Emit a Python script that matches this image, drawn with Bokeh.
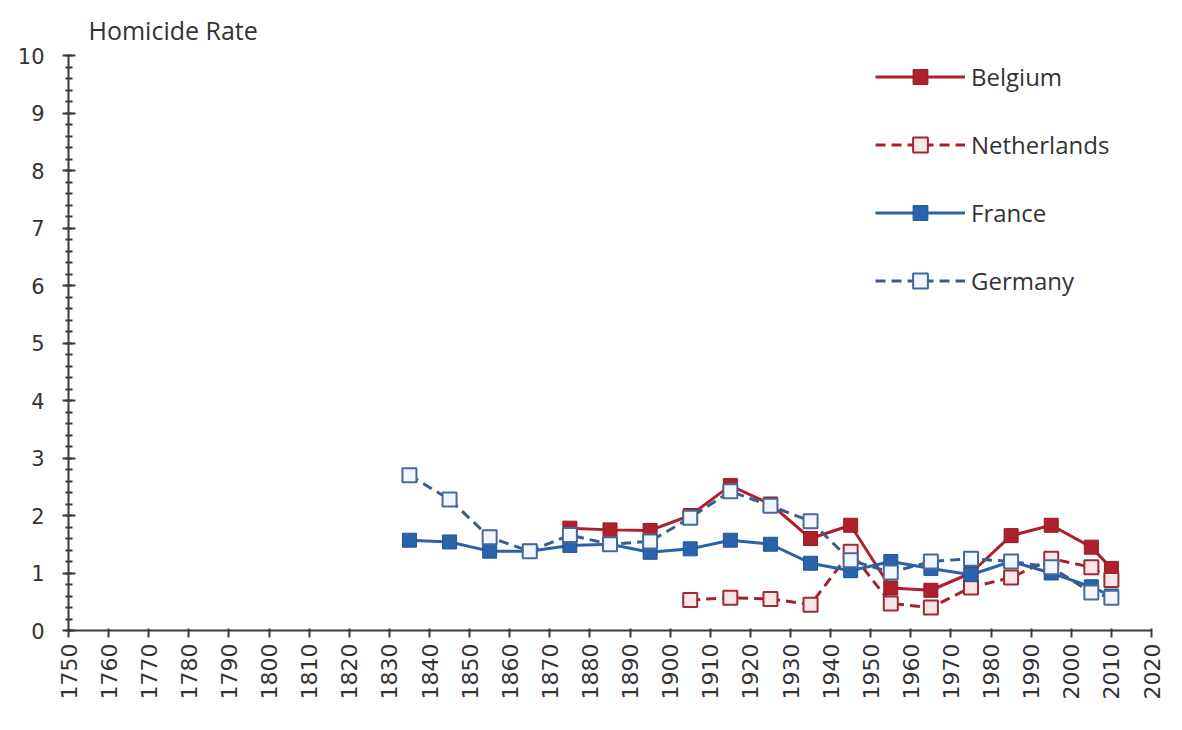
import math
from bokeh.plotting import figure
from bokeh.models import (ColumnDataSource, Range1d, SingleIntervalTicker, Legend, LegendItem, Title)
from bokeh.embed import file_html
from bokeh.resources import INLINE

# ---- data ----
years_all = [1835, 1845, 1855, 1865, 1875, 1885, 1895, 1905, 1915, 1925,
             1935, 1945, 1955, 1965, 1975, 1985, 1995, 2005, 2010]
germany = [2.70, 2.28, 1.62, 1.38, 1.66, 1.50, 1.55, 1.96, 2.42, 2.17,
           1.90, 1.22, 1.01, 1.20, 1.25, 1.20, 1.10, 0.66, 0.57]
france = [1.57, 1.54, 1.38, 1.38, 1.48, 1.50, 1.36, 1.42, 1.57, 1.50,
          1.17, 1.04, 1.20, 1.08, 0.97, 1.20, 1.00, 0.76, 0.60]
years_belgium = [1875, 1885, 1895, 1905, 1915, 1925, 1935, 1945, 1955,
                 1965, 1975, 1985, 1995, 2005, 2010]
belgium = [1.78, 1.75, 1.74, 2.00, 2.52, 2.20, 1.60, 1.83, 0.74,
           0.70, 1.00, 1.65, 1.83, 1.45, 1.08]
years_netherlands = [1905, 1915, 1925, 1935, 1945, 1955, 1965, 1975,
                     1985, 1995, 2005, 2010]
netherlands = [0.53, 0.57, 0.55, 0.45, 1.37, 0.47, 0.40, 0.75,
               0.92, 1.25, 1.10, 0.88]

x_start, x_end = 1750, 2020
y_start, y_end = 0, 10

# ---- figure ----
p = figure(width=1166, height=714, output_backend="svg", toolbar_location=None,
           x_range=Range1d(x_start, x_end), y_range=Range1d(y_start, y_end),
           min_border_left=68, min_border_right=15, min_border_top=55,
           min_border_bottom=84)
p.outline_line_color = None
p.xgrid.visible = False
p.ygrid.visible = False
p.background_fill_color = "white"
p.border_fill_color = "white"

p.add_layout(Title(text="Homicide Rate", align="left", offset=20,
                   text_font="Open Sans", text_font_size="25px",
                   text_font_style="normal", text_color="#333333",
                   standoff=18), "above")

axis_color = "#3a3a3a"
# x axis
p.xaxis.ticker = SingleIntervalTicker(interval=10, num_minor_ticks=0)
p.xaxis.major_label_orientation = math.pi / 2
p.xaxis.axis_line_color = axis_color
p.xaxis.axis_line_width = 2
p.xaxis.major_tick_line_color = axis_color
p.xaxis.major_tick_line_width = 2
p.xaxis.major_tick_out = 7
p.xaxis.major_tick_in = 2
p.xaxis.minor_tick_line_color = None
p.xaxis.major_label_text_font = "DejaVu Sans"
p.xaxis.major_label_text_font_size = "22px"
p.xaxis.major_label_text_color = "#333333"
p.xaxis.major_label_standoff = 6

# y axis
p.yaxis.ticker = SingleIntervalTicker(interval=1, num_minor_ticks=5)
p.yaxis.axis_line_color = axis_color
p.yaxis.axis_line_width = 2
p.yaxis.major_tick_line_color = axis_color
p.yaxis.major_tick_line_width = 2
p.yaxis.major_tick_out = 6
p.yaxis.major_tick_in = 7
p.yaxis.minor_tick_line_color = axis_color
p.yaxis.minor_tick_line_width = 2
p.yaxis.minor_tick_out = 3
p.yaxis.minor_tick_in = 4
p.yaxis.major_label_text_font = "DejaVu Sans"
p.yaxis.major_label_text_font_size = "21px"
p.yaxis.major_label_text_color = "#333333"
p.yaxis.major_label_standoff = 18

# ---- series ----
red = "#B0202C"
red_dash = "#A3222E"
blue = "#2B62AC"
blue_dash = "#3A5D8C"

src_b = ColumnDataSource(dict(x=years_belgium, y=belgium))
src_n = ColumnDataSource(dict(x=years_netherlands, y=netherlands))
src_f = ColumnDataSource(dict(x=years_all, y=france))
src_g = ColumnDataSource(dict(x=years_all, y=germany))

lb = p.line("x", "y", source=src_b, line_color=red, line_width=3)
mb = p.scatter("x", "y", source=src_b, marker="square", size=14,
               fill_color=red, line_color="#8E1A24", line_width=1)

ln = p.line("x", "y", source=src_n, line_color=red_dash, line_width=3, line_dash="10 6")
mn = p.scatter("x", "y", source=src_n, marker="square", size=14,
               fill_color="#FDE6E6", line_color="#9E2A35", line_width=2)

lf = p.line("x", "y", source=src_f, line_color=blue, line_width=3)
mf = p.scatter("x", "y", source=src_f, marker="square", size=14,
               fill_color=blue, line_color="#22558F", line_width=1)

lg = p.line("x", "y", source=src_g, line_color=blue_dash, line_width=3, line_dash="10 6")
mg = p.scatter("x", "y", source=src_g, marker="square", size=14,
               fill_color="#F2F7FF", line_color="#45699A", line_width=2)

legend = Legend(items=[
    LegendItem(label="Belgium", renderers=[lb, mb]),
    LegendItem(label="Netherlands", renderers=[ln, mn]),
    LegendItem(label="France", renderers=[lf, mf]),
    LegendItem(label="Germany", renderers=[lg, mg]),
], location=(807, 331))
legend.glyph_width = 90
legend.glyph_height = 37
legend.label_height = 37
legend.label_standoff = 6
legend.spacing = 31
legend.padding = 0
legend.margin = 0
legend.border_line_color = None
legend.background_fill_alpha = 0
legend.label_text_font = "Open Sans"
legend.label_text_font_size = "24px"
legend.label_text_color = "#333333"
legend.label_text_baseline = "middle"
p.add_layout(legend, "center")

open("out.html", "w").write(file_html(p, INLINE))
